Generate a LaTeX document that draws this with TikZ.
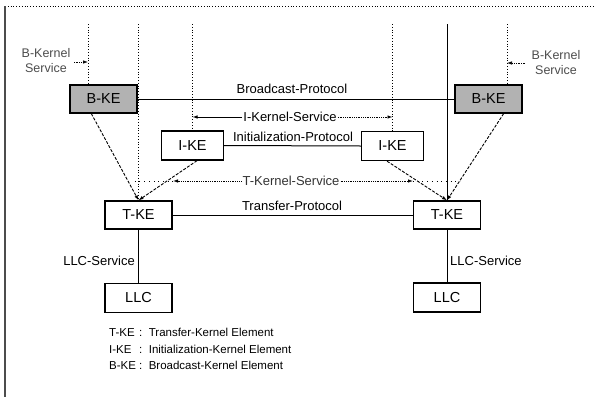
\documentclass[tikz,border=0pt]{standalone}
\usepackage{fontspec}
\setmainfont{Liberation Sans}
\usetikzlibrary{arrows.meta}
\begin{document}
\begin{tikzpicture}[x=1pt,y=-1pt,
  box/.style={draw, line width=1.3pt, inner sep=0pt, font=\fontsize{14.5}{16}\selectfont},
  bbox/.style={box, fill=black!30, minimum width=67pt, minimum height=28pt},
  ibox/.style={box, fill=white, minimum width=62pt, minimum height=29pt},
  tbox/.style={box, fill=white, minimum width=67pt, minimum height=28pt},
  lbox/.style={box, fill=white, minimum width=67pt, minimum height=29pt},
  conn/.style={line width=1pt},
  svc/.style={line width=0.8pt, dotted},
  dl/.style={line width=0.9pt, dash pattern=on 3pt off 1.5pt},
  tip/.style={-{Latex[length=5pt,width=3.5pt]}},
  lbl/.style={font=\fontsize{13}{15}\selectfont, inner sep=1pt},
  glbl/.style={font=\fontsize{12.5}{14}\selectfont, text=black!70, align=center, inner sep=0pt}
]
\useasboundingbox (0,0) rectangle (595,397);
% frame
\draw[line width=0.8pt, dotted] (5,6) -- (595,6);
\draw[line width=1.3pt, black!70] (5,6) -- (5,397);

% nodes
\node[bbox] (bkeL) at (103.5,99) {B-KE};
\node[bbox] (bkeR) at (488.5,99) {B-KE};
\node[ibox] (ikeL) at (192.5,145.5) {I-KE};
\node[ibox] (ikeR) at (392.5,146) {I-KE};
\node[tbox] (tkeL) at (138.5,215) {T-KE};
\node[tbox] (tkeR) at (447,215) {T-KE};
\node[lbox] (llcL) at (138.5,298) {LLC};
\node[lbox] (llcR) at (447,297.5) {LLC};

% vertical service lines
\coordinate (sB1) at (88,24);
\coordinate (sT1) at (138.5,24);
\coordinate (sI1) at (192.5,24);
\coordinate (sI2) at (392.5,24);
\coordinate (sT2) at (447,24);
\coordinate (sB2) at (507,24);
\draw[svc] (sB1) -- (sB1 |- bkeL.north);
\draw[svc] (sT1) -- (tkeL.north);
\draw[svc] (sI1) -- (ikeL.north);
\draw[svc] (sI2) -- (ikeR.north);
\draw[line width=0.8pt] (sT2) -- (tkeR.north);
\draw[svc] (sB2) -- (sB2 |- bkeR.north);

% B-Kernel Service labels
\node[glbl] (bksL) at (46,61) {B-Kernel\\[1pt]Service};
\node[glbl] (bksR) at (556,63) {B-Kernel\\[1pt]Service};
\coordinate (aL) at (74,62);
\coordinate (aR) at (525,63);
\draw[line width=0.7pt, densely dotted, tip] (aL) -- (aL -| sB1);
\draw[line width=0.7pt, densely dotted, tip] (aR) -- (aR -| sB2);

% protocols
\draw[conn] (bkeL.east) -- (bkeR.west);
\node[lbl] (bp) at (292,89) {Broadcast-Protocol};
\draw[conn] (ikeL.east) -- (ikeR.west);
\node[lbl] (ip) at (293,136.5) {Initialization-Protocol};
\draw[conn] (tkeL.east) -- (tkeR.west);
\node[lbl] (tp) at (292,206) {Transfer-Protocol};

% I-Kernel-Service
\node[lbl] (iks) at (290,117) {I-Kernel-Service};
\draw[line width=0.8pt, tip] (iks.west) -- (iks.west -| ikeL.north);
\draw[line width=0.8pt, densely dotted, tip] (iks.east) -- (iks.east -| ikeR.north);

% T-Kernel-Service
\node[lbl, text=black!80] (tks) at (291,181) {T-Kernel-Service};
\coordinate (tkL) at (173,181);
\coordinate (tkLe) at (132,181);
\coordinate (tkR) at (413,181);
\coordinate (tkRe) at (460,181);
\draw[line width=0.8pt, densely dotted, tip] (tks.west) -- (tkL);
\draw[line width=0.7pt, loosely dotted] (tkL) -- (tkLe);
\draw[line width=0.8pt, densely dotted, tip] (tks.east) -- (tkR);
\draw[line width=0.7pt, loosely dotted] (tkR) -- (tkRe);

% dashed connectors to T-KE
\draw[dl, tip] ([xshift=22pt]bkeL.south west) -- (tkeL.north);
\draw[dl, tip] ([xshift=4.5pt]ikeL.south) -- (tkeL.north);
\draw[dl, tip] ([xshift=-19pt]bkeR.south east) -- (tkeR.north);
\draw[dl, tip] ([xshift=-5.5pt]ikeR.south) -- (tkeR.north);

% LLC service
\draw[conn] (tkeL.south) -- (llcL.north);
\draw[conn] (tkeR.south) -- (llcR.north);
\node[lbl, anchor=east] (lsL) at (136,261) {LLC-Service};
\node[lbl, anchor=west] (lsR) at (449,261) {LLC-Service};

% legend
\node[anchor=north west, inner sep=0pt, font=\fontsize{11.5}{16.5}\selectfont] (leg) at (109,325)
{\begin{tabular}{@{}l@{\ :\ \ }l@{}}
T-KE & Transfer-Kernel Element\\
I-KE & Initialization-Kernel Element\\
B-KE & Broadcast-Kernel Element
\end{tabular}};
\end{tikzpicture}
\end{document}
